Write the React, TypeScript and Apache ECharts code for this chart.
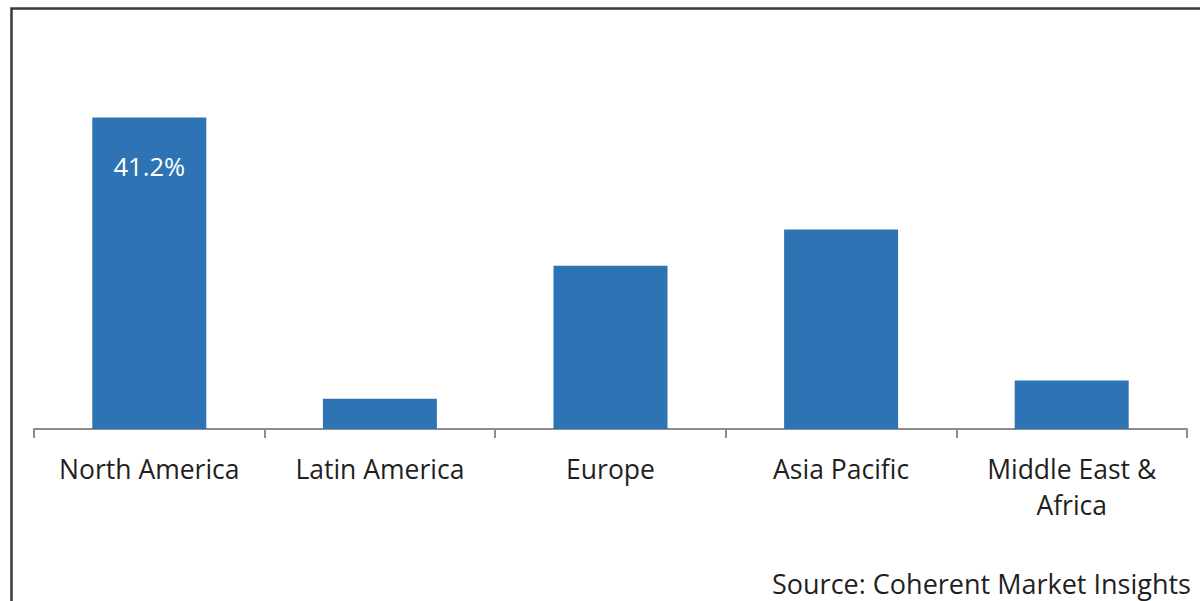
import React, { useEffect, useRef } from "react";
import * as echarts from "echarts";

const categories = ["North America", "Latin America", "Europe", "Asia Pacific", "Middle East &\nAfrica"];
const shares = [41.2, 4.0, 21.6, 26.4, 6.4];
const labelledIndex = 0;
const sourceText = "Source: Coherent Market Insights";

const FONT = "'Open Sans', 'Noto Sans', sans-serif";

export default function App() {
  const ref = useRef<HTMLDivElement>(null);
  useEffect(() => {
    if (!ref.current) return;
    const chart = echarts.init(ref.current, undefined, { renderer: "svg" });
    chart.setOption({
      animation: false,
      backgroundColor: "#ffffff",
      grid: { left: 34, right: 13, top: 51, bottom: 172, containLabel: false },
      xAxis: {
        type: "category",
        data: categories,
        axisLine: { lineStyle: { color: "#8c8c8c", width: 2 } },
        axisTick: { show: true, length: 9, lineStyle: { color: "#8c8c8c", width: 2 } },
        axisLabel: {
          color: "#1f1f1f",
          fontFamily: FONT,
          fontSize: 26.5,
          lineHeight: 36,
          margin: 22,
          interval: 0,
        },
      },
      yAxis: {
        type: "value",
        min: 0,
        max: 50,
        show: false,
        splitLine: { show: false },
      },
      series: [
        {
          type: "bar",
          data: shares.map((v, i) => ({
            value: v,
            label: {
              show: i === labelledIndex,
              position: "insideTop",
              distance: 35,
              formatter: (p: any) => p.value.toFixed(1) + "%",
              color: "#ffffff",
              fontFamily: FONT,
              fontSize: 25.5,
            },
          })),
          barWidth: 114,
          itemStyle: { color: "#2E74B5" },
        },
      ],
      graphic: [
        {
          type: "rect",
          shape: { x: 11.5, y: 8.5, width: 1400, height: 800 },
          style: { fill: "none", stroke: "#3a3a3a", lineWidth: 2.5 },
          silent: true,
        },
        {
          type: "text",
          style: {
            x: 1191,
            y: 583,
            align: "right",
            verticalAlign: "middle",
            text: sourceText,
            fill: "#1f1f1f",
            font: `27px ${FONT}`,
          },
        },
      ],
    });
    return () => chart.dispose();
  }, []);
  return (
    <div
      ref={ref}
      style={{ position: "absolute", left: 0, top: 0, width: 1200, height: 601 }}
    />
  );
}
